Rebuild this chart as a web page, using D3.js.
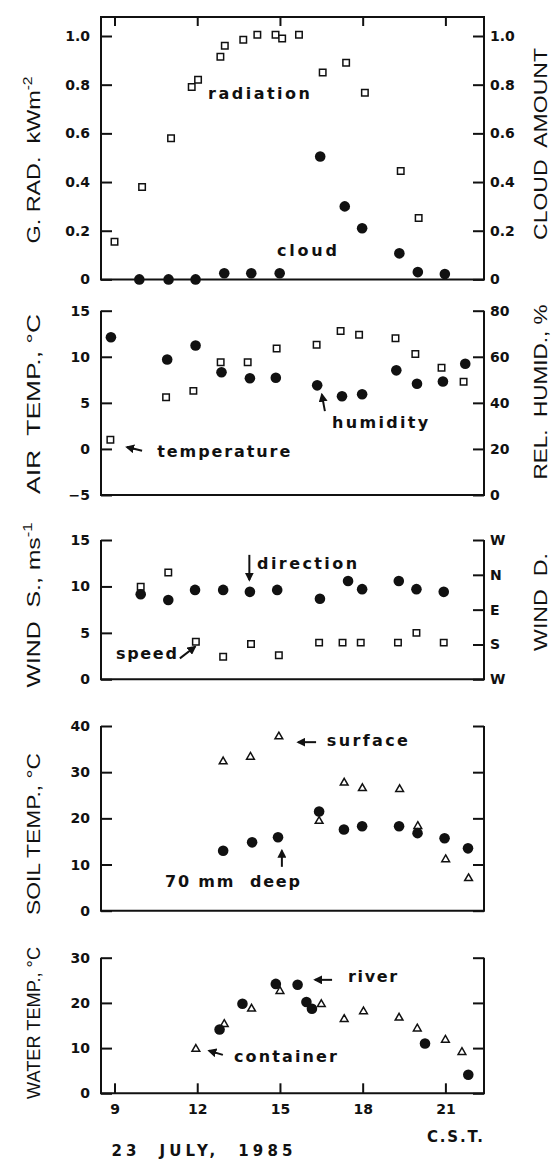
<!DOCTYPE html>
<html>
<head>
<meta charset="utf-8">
<style>
  body { margin: 0; background: #fff; }
  svg { display: block; }
  .lbl { font-family: "DejaVu Sans", sans-serif; font-weight: bold; fill: #111; white-space: pre; }
  .title { font-family: "Liberation Sans", Arial, sans-serif; fill: #111; white-space: pre; }
</style>
</head>
<body>
<div id="chart"></div>
<script src="https://d3js.org/d3.v7.min.js"></script>
<script>
// ---- data ----
const hourTicks = [9, 12, 15, 18, 21];

// global radiation (kW m-2) and cloud amount
const radTime   = [9.0, 10.0, 11.05, 11.8, 12.03, 12.84, 13.0, 13.67, 14.18, 14.84, 15.08, 15.69, 16.55, 17.4, 18.08, 19.38, 20.03];
const radiation = [0.155, 0.38, 0.58, 0.79, 0.82, 0.915, 0.96, 0.985, 1.005, 1.005, 0.99, 1.005, 0.85, 0.89, 0.767, 0.445, 0.252];
const cloudTime = [9.9, 10.96, 11.94, 12.98, 13.96, 14.99, 16.46, 17.35, 17.98, 19.33, 20.0, 20.98];
const cloud     = [0, 0, 0, 0.025, 0.025, 0.025, 0.505, 0.30, 0.21, 0.107, 0.03, 0.022];
const radTicks  = [0, 0.2, 0.4, 0.6, 0.8, 1.0];

// air temperature (°C) and relative humidity (%)
const tempTime   = [8.85, 10.87, 11.86, 12.85, 13.83, 14.88, 16.33, 17.2, 17.87, 19.19, 19.91, 20.86, 21.66];
const airTemp    = [1.0, 5.6, 6.3, 9.4, 9.4, 10.9, 11.3, 12.8, 12.4, 12.0, 10.3, 8.8, 7.3];
const humidTime  = [8.87, 10.91, 11.94, 12.88, 13.91, 14.85, 16.35, 17.25, 17.98, 19.22, 19.97, 20.91, 21.72];
const humidity   = [68.5, 58.8, 64.9, 53.3, 50.7, 50.9, 47.6, 42.9, 43.7, 54.1, 48.3, 49.3, 57.0];
const tempTicks  = [-5, 0, 5, 10, 15];
const humidTicks = [0, 20, 40, 60, 80];

// wind speed (m s-1) and direction (degrees)
const speedTime  = [9.95, 10.95, 11.95, 12.94, 13.95, 14.96, 16.42, 17.27, 17.93, 19.28, 19.95, 20.94];
const windSpeed  = [9.97, 11.5, 4.05, 2.43, 3.8, 2.6, 3.95, 3.95, 3.95, 3.95, 5.0, 3.95];
const dirTime    = [9.95, 10.95, 11.92, 12.94, 13.91, 14.9, 16.45, 17.47, 17.98, 19.31, 19.95, 20.94];
const windDir    = [50, 65, 39, 39, 44, 39, 62, 16, 37, 16, 37, 44];
const speedTicks = [0, 5, 10, 15];
const dirTicks   = [270, 180, 90, 0, -90];
const dirLabels  = ["W", "S", "E", "N", "W"];

// soil temperature (°C)
const surfTime    = [12.94, 13.93, 14.96, 16.42, 17.33, 17.99, 19.34, 20.0, 21.01, 21.84];
const surfaceTemp = [32.3, 33.3, 37.7, 19.4, 27.7, 26.5, 26.3, 18.3, 11.1, 7.0];
const deepTime    = [12.94, 13.99, 14.93, 16.42, 17.32, 17.98, 19.32, 19.99, 20.97, 21.82];
const deepTemp    = [13.0, 14.8, 15.9, 21.5, 17.6, 18.3, 18.3, 16.8, 15.7, 13.5];
const soilTicks   = [0, 10, 20, 30, 40];

// water temperature (°C)
const contTime      = [11.95, 12.98, 13.97, 15.0, 16.5, 17.33, 18.03, 19.32, 19.98, 21.0, 21.6];
const containerTemp = [9.8, 15.3, 18.7, 22.6, 19.7, 16.4, 18.1, 16.7, 14.3, 11.8, 9.1];
const riverTime     = [12.81, 13.64, 14.85, 15.64, 15.96, 16.16, 20.26, 21.83];
const riverTemp     = [14.1, 19.8, 24.2, 24.0, 20.2, 18.7, 11.0, 4.1];
const waterTicks    = [0, 10, 20, 30];

// ---- drawing ----
const ink = "#111";
const svg = d3.select("#chart").append("svg")
    .attr("width", 553)
    .attr("height", 1164);

svg.append("defs").append("marker")
    .attr("id", "arrow")
    .attr("viewBox", "0 0 10 10")
    .attr("refX", 8).attr("refY", 5)
    .attr("markerWidth", 4.5).attr("markerHeight", 4.5)
    .attr("orient", "auto")
  .append("path")
    .attr("d", "M0,0 L10,5 L0,10 z")
    .attr("fill", ink);

const left = 101, right = 484;
const x = d3.scaleLinear().domain([8.51, 22.4]).range([left, right]);

// frame: left, bottom, right (and top for the first panel)
function frame(yTop, yBottom, closed) {
  svg.append("path")
    .attr("d", `M${left},${yTop}V${yBottom}H${right}V${yTop}` + (closed ? "Z" : ""))
    .attr("fill", "none").attr("stroke", ink).attr("stroke-width", 2);
}

function styleAxis(g) {
  g.select(".domain").remove();
  g.attr("font-family", '"DejaVu Sans", sans-serif')
   .attr("font-weight", "bold")
   .attr("font-size", 14);
  g.selectAll(".tick line").attr("stroke", ink).attr("stroke-width", 2);
  g.selectAll(".tick text").attr("fill", ink);
}

function leftAxis(scale, ticks, fmt) {
  svg.append("g").attr("transform", `translate(${left},0)`)
    .call(d3.axisLeft(scale).tickValues(ticks).tickSizeInner(-11).tickSizeOuter(0)
          .tickPadding(11).tickFormat(fmt || d3.format("d")))
    .call(styleAxis);
}

function rightAxis(scale, ticks, fmt) {
  svg.append("g").attr("transform", `translate(${right},0)`)
    .call(d3.axisRight(scale).tickValues(ticks).tickSizeInner(-11).tickSizeOuter(0)
          .tickPadding(6).tickFormat(fmt || d3.format("d")))
    .call(styleAxis);
}

const symbols = {
  square:   { type: d3.symbolSquare,   size: 42, fill: "#fff", sw: 1.5 },
  circle:   { type: d3.symbolCircle,   size: 88, fill: ink,    sw: 0 },
  triangle: { type: d3.symbolTriangle, size: 26, fill: "#fff", sw: 1.5 }
};

function plot(times, values, yScale, kind) {
  const s = symbols[kind];
  svg.append("g").selectAll("path")
    .data(times.map((t, i) => [t, values[i]]))
    .join("path")
      .attr("transform", d => `translate(${x(d[0])},${yScale(d[1])})`)
      .attr("d", d3.symbol(s.type, s.size))
      .attr("fill", s.fill)
      .attr("stroke", ink)
      .attr("stroke-width", s.sw);
}

function note(txt, t, v, yScale, len) {
  svg.append("text").attr("class", "lbl")
    .attr("x", x(t)).attr("y", yScale(v)).attr("dy", "0.32em")
    .attr("font-size", 16)
    .attr("textLength", len).attr("lengthAdjust", "spacing")
    .text(txt);
}

function arrow(t1, v1, t2, v2, yScale) {
  svg.append("line")
    .attr("x1", x(t1)).attr("y1", yScale(v1))
    .attr("x2", x(t2)).attr("y2", yScale(v2))
    .attr("stroke", ink).attr("stroke-width", 2)
    .attr("marker-end", "url(#arrow)");
}

// rotated axis title; parts = [[text, superscript?], ...]
function title(parts, cx, cy, len, size) {
  const t = svg.append("text").attr("class", "title")
    .attr("transform", `translate(${cx},${cy}) rotate(-90)`)
    .attr("text-anchor", "middle")
    .attr("font-size", size || 18)
    .attr("textLength", len).attr("lengthAdjust", "spacingAndGlyphs");
  parts.forEach(([s, sup]) => {
    const sp = t.append("tspan").text(s);
    if (sup) sp.attr("font-size", 12).attr("dy", -8);
  });
}

// panel 1: radiation / cloud
const yRad = d3.scaleLinear().domain([0, 1]).range([279.4, 36]);
frame(17, 279.4, true);
leftAxis(yRad, radTicks, d => d === 0 ? "0" : d3.format(".1f")(d));
rightAxis(yRad, radTicks, d => d === 0 ? "0" : d3.format(".1f")(d));
svg.append("g").attr("transform", "translate(0,17)")
  .call(d3.axisTop(x).tickValues(hourTicks).tickSize(-9).tickFormat(""))
  .call(styleAxis);
plot(radTime, radiation, yRad, "square");
plot(cloudTime, cloud, yRad, "circle");
note("radiation", 12.39, 0.764, yRad, 102);
note("cloud", 14.89, 0.119, yRad, 60);
title([["G. RAD.  kWm"], ["-2", true]], 40, 160, 167);
title([["CLOUD  AMOUNT"]], 547, 144, 192);

// panel 2: air temperature / humidity
const yTemp = d3.scaleLinear().domain([-5, 15]).range([495, 310.7]);
const yHum = d3.scaleLinear().domain([0, 80]).range([495, 310.7]);
frame(310.7, 495, false);
leftAxis(yTemp, tempTicks);
rightAxis(yHum, humidTicks);
plot(tempTime, airTemp, yTemp, "square");
plot(humidTime, humidity, yHum, "circle");
note("temperature", 10.55, -0.3, yTemp, 133);
arrow(10.0, -0.2, 9.45, 0.2, yTemp);
note("humidity", 16.89, 2.8, yTemp, 96);
arrow(16.63, 4.1, 16.52, 5.9, yTemp);
title([["AIR  TEMP., °C"]], 40, 404, 180);
title([["REL.  HUMID., %"]], 547, 392, 175);

// panel 3: wind speed / direction
const ySpeed = d3.scaleLinear().domain([0, 15]).range([679.3, 540]);
const yDir = d3.scaleLinear().domain([270, -90]).range([679.3, 540]);
frame(540, 679.3, false);
leftAxis(ySpeed, speedTicks);
rightAxis(yDir, dirTicks, (d, i) => dirLabels[i]);
plot(speedTime, windSpeed, ySpeed, "square");
plot(dirTime, windDir, yDir, "circle");
note("direction", 14.17, 12.4, ySpeed, 100);
arrow(13.89, 13.4, 13.89, 10.7, ySpeed);
note("speed", 9.05, 2.72, ySpeed, 61);
arrow(11.37, 2.25, 11.92, 3.5, ySpeed);
title([["WIND  S., ms"], ["-1", true]], 40, 605, 165);
title([["WIND  D."]], 547, 602, 98);

// panel 4: soil temperature
const ySoil = d3.scaleLinear().domain([0, 40]).range([910.7, 726]);
frame(726, 910.7, false);
leftAxis(ySoil, soilTicks);
rightAxis(ySoil, soilTicks, () => "");
plot(surfTime, surfaceTemp, ySoil, "triangle");
plot(deepTime, deepTemp, ySoil, "circle");
note("surface", 16.7, 36.7, ySoil, 81);
arrow(16.31, 36.5, 15.66, 36.5, ySoil);
note("70 mm  deep", 10.83, 6.2, ySoil, 135);
arrow(15.07, 9.5, 15.07, 13.0, ySoil);
title([["SOIL TEMP., °C"]], 40, 834, 162);

// panel 5: water temperature
const yWater = d3.scaleLinear().domain([0, 30]).range([1093.3, 957.7]);
frame(957.7, 1093.3, false);
leftAxis(yWater, waterTicks);
rightAxis(yWater, waterTicks, () => "");
svg.append("g").attr("transform", "translate(0,1093.3)")
  .call(d3.axisBottom(x).tickValues(hourTicks).tickSize(-10).tickPadding(11).tickFormat(d3.format("d")))
  .call(styleAxis);
plot(contTime, containerTemp, yWater, "triangle");
plot(riverTime, riverTemp, yWater, "circle");
note("river", 17.47, 25.7, yWater, 49);
arrow(16.89, 25.1, 16.27, 25.1, yWater);
note("container", 13.33, 8.0, yWater, 103);
arrow(12.93, 8.5, 12.43, 9.4, yWater);
title([["WATER TEMP., °C"]], 40, 1023, 152);

// footer
svg.append("text").attr("class", "lbl")
  .attr("x", 427).attr("y", 1136.6).attr("dy", "0.35em")
  .attr("font-size", 15).attr("textLength", 56).attr("lengthAdjust", "spacing")
  .text("C.S.T.");
svg.append("text").attr("class", "lbl")
  .attr("x", 111.5).attr("y", 1151).attr("dy", "0.35em")
  .attr("font-size", 15).attr("textLength", 181).attr("lengthAdjust", "spacing")
  .text("23  JULY,  1985");
</script>
</body>
</html>
